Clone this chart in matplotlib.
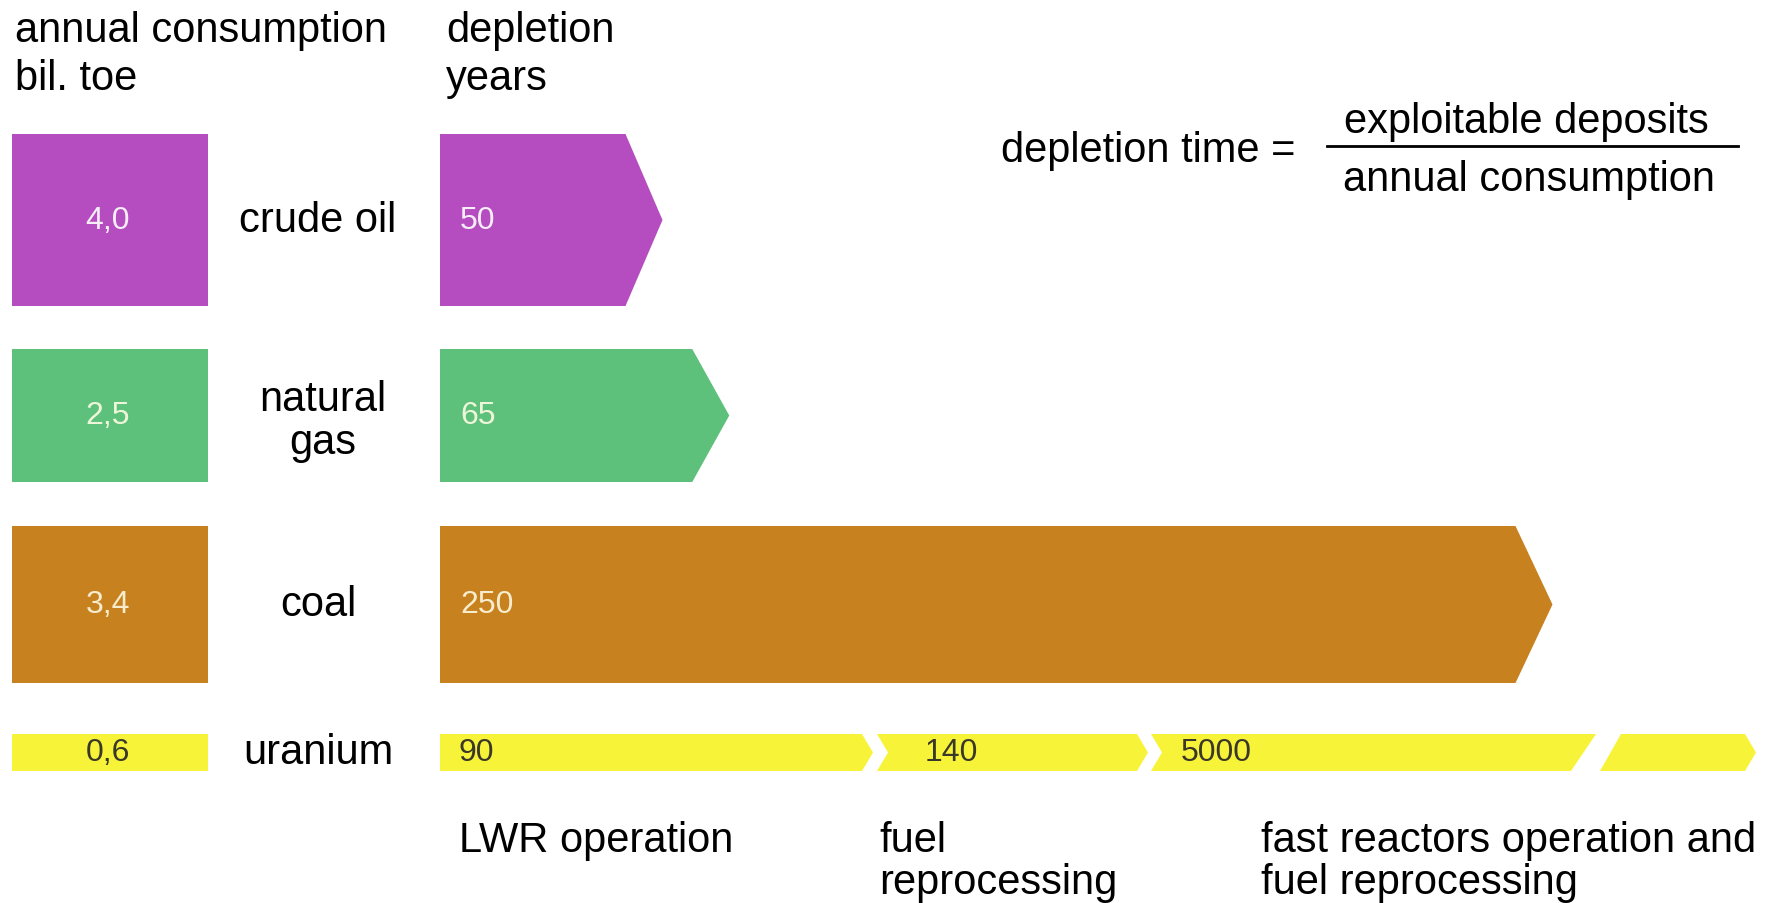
#!/usr/bin/env python3
"""Fossil fuel consumption vs depletion time, drawn as boxes and arrows."""

import matplotlib

matplotlib.use("Agg")
import matplotlib.pyplot as plt
from matplotlib.patches import Polygon, Rectangle

plt.rcParams["font.family"] = ["Liberation Sans", "DejaVu Sans"]

# data
FUELS = ["crude oil", "natural gas", "coal", "uranium"]
CONSUMPTION = ["4,0", "2,5", "3,4", "0,6"]  # bil. toe per year
DEPLETION_YEARS = [50, 65, 250]  # crude oil, natural gas, coal
URANIUM_YEARS = ["90", "140", "5000", ""]
URANIUM_STAGES = ["LWR operation", "fuel\nreprocessing", "fast reactors operation and\nfuel reprocessing"]

# layout (pixel units, y downwards)
W, H = 1768, 904
ROWS = [(135, 307), (350, 483), (527, 684), (735, 772)]
BOX_X = (12, 208)
ARROW_X0 = 440
PX_PER_YEAR = 4.45
HEAD = 37
URAN_EDGES = [(440, 862), (877, 1137), (1151, 1596), (1621, 1745)]
URAN_HEAD = 11
COLORS = ["#b54dc1", "#5dc07b", "#c7811f", "#f7f338"]
NUM_COLORS = ["#f6eef6", "#eef6da", "#f7eccd", "#3a3828"]
FS = 30
NUM_FS = 23


def arrow(ax, x0, x1, top, bot, head, color):
    mid = (top + bot) / 2
    pts = [(x0, top), (x1 - head, top), (x1, mid), (x1 - head, bot), (x0, bot)]
    ax.add_patch(Polygon(pts, closed=True, facecolor=color, edgecolor="none"))


def main():
    fig = plt.figure(figsize=(W / 100, H / 100), dpi=100)
    ax = fig.add_axes([0, 0, 1, 1])
    ax.set_xlim(0, W)
    ax.set_ylim(H, 0)
    ax.axis("off")

    # headers
    ax.text(15, 42, "annual consumption", fontsize=FS, va="baseline")
    ax.text(15, 90, "bil. toe", fontsize=FS, va="baseline")
    ax.text(446, 42, "depletion", fontsize=FS, va="baseline")
    ax.text(446, 90, "years", fontsize=FS, va="baseline")

    # formula
    ax.text(1001, 162, "depletion time =", fontsize=FS, va="baseline")
    ax.text(1526, 133, "exploitable deposits", fontsize=FS, va="baseline", ha="center")
    ax.plot([1327, 1738], [147, 147], color="black", lw=2)
    ax.text(1529, 191, "annual consumption", fontsize=FS, va="baseline", ha="center")

    for i, (fuel, cons) in enumerate(zip(FUELS, CONSUMPTION)):
        top, bot = ROWS[i]
        mid = (top + bot) / 2
        color = COLORS[i]
        ax.add_patch(Rectangle((BOX_X[0], top), BOX_X[1] - BOX_X[0], bot - top,
                               facecolor=color, edgecolor="none"))
        ax.text(108, mid, cons, fontsize=NUM_FS, color=NUM_COLORS[i], ha="center", va="center")
        if fuel == "natural gas":
            ax.text(323, 411, "natural", fontsize=FS, ha="center", va="baseline")
            ax.text(323, 454, "gas", fontsize=FS, ha="center", va="baseline")
        else:
            ax.text(318, mid, fuel, fontsize=FS, ha="center", va="center")

        if i < len(DEPLETION_YEARS):
            yrs = DEPLETION_YEARS[i]
            arrow(ax, ARROW_X0, ARROW_X0 + yrs * PX_PER_YEAR, top, bot, HEAD, color)
            ax.text(460, mid, str(yrs), fontsize=NUM_FS, color=NUM_COLORS[i], va="center")

    # uranium: chained segments (broken scale)
    top, bot = ROWS[3]
    mid = (top + bot) / 2
    for k, ((xa, xb), lab) in enumerate(zip(URAN_EDGES, URANIUM_YEARS)):
        if k == 0:
            left = [(xa, bot), (xa, top)]
        elif k == 3:
            left = [(xa - 21, bot), (xa, top)]
        else:
            left = [(xa, bot), (xa + URAN_HEAD, mid), (xa, top)]
        if k == 2:
            right = [(xb, top), (xb - 25, bot)]
        else:
            right = [(xb, top), (xb + URAN_HEAD, mid), (xb, bot)]
        ax.add_patch(Polygon(left + right, closed=True, facecolor=COLORS[3], edgecolor="none"))
        if lab:
            lx = xa + (19 if k == 0 else 48 if k == 1 else 30)
            ax.text(lx, mid, lab, fontsize=NUM_FS, color=NUM_COLORS[3], va="center")

    # uranium stage labels
    stage_x = [459, 879, 1261]
    for x, lab in zip(stage_x, URANIUM_STAGES):
        for j, line in enumerate(lab.split("\n")):
            ax.text(x, 852 + j * 42, line, fontsize=FS, va="baseline")

    fig.savefig("out.png", dpi=100)
    plt.close(fig)


if __name__ == "__main__":
    main()
